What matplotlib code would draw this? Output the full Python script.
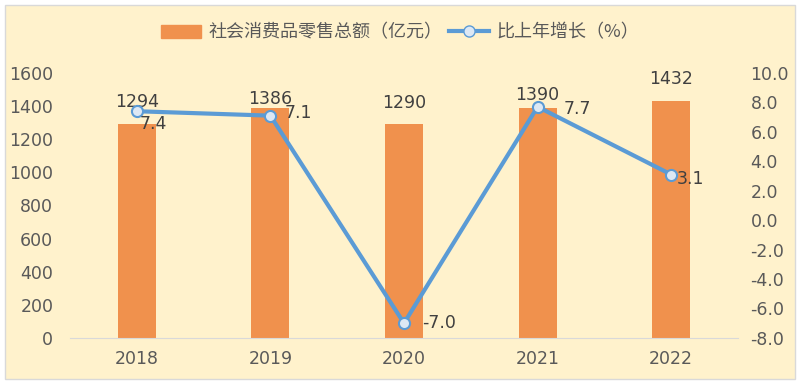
import matplotlib
matplotlib.use('Agg')
import matplotlib.pyplot as plt
from matplotlib.patches import FancyBboxPatch
from matplotlib.lines import Line2D
import matplotlib.patches as mpatches

plt.rcParams['font.family'] = ['DejaVu Sans', 'Noto Sans CJK SC']

years = ['2018', '2019', '2020', '2021', '2022']
sales = [1294, 1386, 1290, 1390, 1432]
growth = [7.4, 7.1, -7.0, 7.7, 3.1]

BAR = '#F0914D'
LINE = '#5B9BD5'
BG = '#FFF2CC'
TXT = '#595959'

fig = plt.figure(figsize=(8, 3.84), dpi=100)
fig.patch.set_facecolor('white')
frame = FancyBboxPatch((0.006, 0.012), 0.988, 0.976, boxstyle='square,pad=0',
                       transform=fig.transFigure, facecolor=BG,
                       edgecolor='#D9D9D9', linewidth=1.0, zorder=-10)
fig.patches.append(frame)

ax = fig.add_axes([0.0875, 0.12, 0.835, 0.69])
ax.set_facecolor('none')
x = list(range(len(years)))
bars = ax.bar(x, sales, width=0.285, color=BAR, zorder=2)
ax.set_xlim(-0.5, 4.5)
ax.set_ylim(0, 1600)
ax.set_yticks(range(0, 1601, 200))
ax.set_xticks(x)
ax.set_xticklabels(years)
for s in ['top', 'right', 'left']:
    ax.spines[s].set_visible(False)
ax.spines['bottom'].set_color('#D9D9D9')
ax.tick_params(axis='both', length=0, labelsize=12.5, colors=TXT)
ax.tick_params(axis='x', pad=9)
ax.tick_params(axis='y', pad=12)
# label offsets (points) above the bars; some sit lower to clear the line labels
bar_off = [9, 0, 9, 2.5, 9]
for xi, v, dy in zip(x, sales, bar_off):
    ax.annotate(str(v), (xi, v), xytext=(0, dy), textcoords='offset points',
                ha='center', va='bottom', fontsize=12.5, color='#404040', zorder=5)

ax2 = ax.twinx()
ax2.set_ylim(-8, 10)
ax2.set_yticks(range(-8, 11, 2))
ax2.set_yticklabels([f'{v:.1f}' for v in range(-8, 11, 2)])
for s in ax2.spines.values():
    s.set_visible(False)
ax2.tick_params(axis='y', length=0, labelsize=12.5, colors=TXT, pad=9)
ax2.plot(x, growth, color=LINE, lw=3, marker='o', ms=8,
         markerfacecolor='#DDE8F4', markeredgecolor=LINE, markeredgewidth=1.5, zorder=4)
offsets = [(2.2, -9), (10, 2), (13, 0), (18.7, -1.5), (4.3, -3)]
for xi, v, off in zip(x, growth, offsets):
    ax2.annotate(f'{v:.1f}', (xi, v), xytext=off, textcoords='offset points',
                 ha='left', va='center', fontsize=12.5, color='#404040', zorder=5)

handles = [mpatches.Patch(color=BAR, label='社会消费品零售总额（亿元）'),
           Line2D([], [], color=LINE, lw=3, marker='o', ms=8,
                  markerfacecolor='#DDE8F4', markeredgecolor=LINE,
                  label='比上年增长（%）')]
fig.legend(handles=handles, loc='center', bbox_to_anchor=(0.5, 0.915), ncol=2,
           frameon=False, labelcolor=TXT, handlelength=2.2,
           columnspacing=0.4, handletextpad=0.4,
           prop={'family': ['Noto Sans CJK SC', 'DejaVu Sans'], 'size': 13})

fig.savefig('out.png', dpi=100)
